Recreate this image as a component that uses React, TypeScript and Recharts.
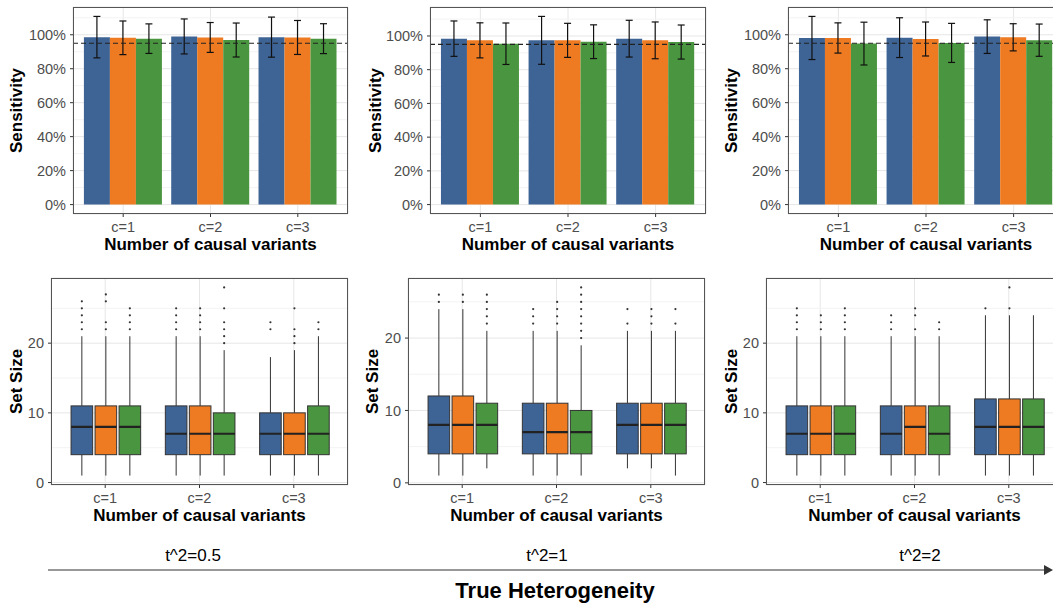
import React from 'react';
import { ComposedChart, Bar, XAxis, YAxis, CartesianGrid, ErrorBar, ReferenceLine } from 'recharts';

const categories = ['c=1', 'c=2', 'c=3'];
const methodColors = ['#3e6395', '#ee7a22', '#4a953f'];
const heterogeneity = ['0.5', '1', '2'];

// sensitivity: rows = categories, columns = methods
const sensMean05 = [[0.986, 0.982, 0.977], [0.990, 0.984, 0.969], [0.986, 0.984, 0.977]];
const sensErr05 = [[0.122, 0.099, 0.087], [0.103, 0.088, 0.100], [0.118, 0.100, 0.088]];
const sensMean1 = [[0.984, 0.974, 0.954], [0.974, 0.974, 0.966], [0.984, 0.974, 0.964]];
const sensErr1 = [[0.105, 0.104, 0.123], [0.142, 0.101, 0.100], [0.109, 0.109, 0.101]];
const sensMean2 = [[0.981, 0.981, 0.948], [0.983, 0.975, 0.952], [0.989, 0.985, 0.968]];
const sensErr2 = [[0.127, 0.089, 0.126], [0.117, 0.100, 0.115], [0.099, 0.080, 0.095]];

// set size box stats: [low whisker, q1, median, q3, high whisker, outliers]
type Box = [number, number, number, number, number, number[]];
const setSize05: Box[][] = [
  [[1, 4, 8, 11, 21, [22, 23, 24, 25, 26]], [1, 4, 8, 11, 21, [22, 23, 26, 27]], [1, 4, 8, 11, 21, [22, 23, 24, 25]]],
  [[1, 4, 7, 11, 21, [22, 23, 24, 25]], [1, 4, 7, 11, 21, [22, 23, 24, 25]], [1, 4, 7, 10, 19, [20, 21, 22, 23, 25, 28]]],
  [[1, 4, 7, 10, 18, [22, 23]], [1, 4, 7, 10, 19, [20, 21, 22, 25]], [1, 4, 7, 11, 21, [22, 23]]],
];
const setSize1: Box[][] = [
  [[1, 4, 8, 12, 24, [25, 26]], [1, 4, 8, 12, 24, [25, 26]], [2, 4, 8, 11, 21, [22, 23, 24, 25, 26]]],
  [[1, 4, 7, 11, 21, [22, 23, 24]], [1, 4, 7, 11, 21, [22, 23, 24, 25]], [1, 4, 7, 10, 19, [20, 21, 22, 23, 24, 25, 26, 27]]],
  [[2, 4, 8, 11, 21, [22, 24]], [2, 4, 8, 11, 21, [22, 23, 24]], [1, 4, 8, 11, 21, [22, 24]]],
];
const setSize2: Box[][] = [
  [[1, 4, 7, 11, 21, [22, 23, 24, 25]], [1, 4, 7, 11, 21, [22, 23, 24]], [1, 4, 7, 11, 21, [22, 23, 24, 25]]],
  [[1, 4, 7, 11, 21, [22, 23, 24]], [1, 4, 8, 11, 21, [22, 24, 25]], [1, 4, 7, 11, 21, [22, 23]]],
  [[1, 4, 8, 12, 24, [25]], [1, 4, 8, 12, 24, [25, 28]], [1, 4, 8, 12, 24, []]],
];

const sensTicks = [0, 0.2, 0.4, 0.6, 0.8, 1];
const sensMinor = [0.1, 0.3, 0.5, 0.7, 0.9, 1.1];
const sizeTicks = [0, 10, 20];
const sizeMinor = [5, 15, 25];

const FONT = "'Liberation Sans', Arial, sans-serif";
const MT = 5;
const MR = 5;
const XH = 50;

type Rect = { x: number; y: number; w: number; h: number };

const tickStyle = { fill: '#4d4d4d', fontSize: 14.5, fontFamily: FONT };
const titleStyle = { fill: '#000', fontSize: 17, fontWeight: 'bold', fontFamily: FONT };

const Frame = ({ r }: { r: Rect }) => (
  <div
    style={{
      position: 'absolute', left: r.x, top: r.y, width: r.w, height: r.h,
      border: '1px solid #555', boxSizing: 'border-box', pointerEvents: 'none',
    }}
  />
);

const SensPanel = ({ means, errs, r, yw, titleOff }: { means: number[][]; errs: number[][]; r: Rect; yw: number; titleOff: number }) => {
  const rows = categories.map((cat, i) => {
    const row: any = { cat };
    means[i].forEach((m, j) => { row[`s${j}`] = m; row[`e${j}`] = errs[i][j]; });
    return row;
  });
  const hi = Math.max(...means.flatMap((row, i) => row.map((m, j) => m + errs[i][j])));
  const pad = r.w / 42;
  return (
    <>
      <div style={{ position: 'absolute', left: r.x - yw, top: r.y - MT }}>
        <ComposedChart width={yw + r.w + MR} height={MT + r.h + XH} data={rows}
          margin={{ top: MT, right: MR, left: 0, bottom: 0 }} barCategoryGap="5%" barGap={0}>
          <CartesianGrid stroke="#e6e6e6" />
          <XAxis dataKey="cat" height={XH} padding={{ left: pad, right: pad }} axisLine={false}
            tickSize={3} tickMargin={5} tickLine={{ stroke: '#333' }} tick={tickStyle}
            label={{ value: 'Number of causal variants', position: 'insideBottom', offset: 14, ...titleStyle }} />
          <YAxis type="number" domain={[-0.05 * hi, 1.05 * hi]} allowDataOverflow ticks={sensTicks} width={yw}
            axisLine={false} tickSize={3} tickMargin={4} tickLine={{ stroke: '#333' }} tick={tickStyle}
            tickFormatter={(v: number) => `${Math.round(v * 100)}%`}
            label={{ value: 'Sensitivity', angle: -90, position: 'insideLeft', offset: titleOff, style: { textAnchor: 'middle' }, ...titleStyle }} />
          {sensMinor.map((v) => (
            <ReferenceLine key={v} y={v} stroke="#f3f3f3" zIndex={-50} />
          ))}
          {methodColors.map((c, j) => (
            <Bar key={j} dataKey={`s${j}`} fill={c} isAnimationActive={false}>
              <ErrorBar dataKey={`e${j}`} width={3.5} stroke="#111" strokeWidth={1.2} />
            </Bar>
          ))}
          <ReferenceLine y={0.95} stroke="#222" strokeWidth={1.1} strokeDasharray="5 3" />
        </ComposedChart>
      </div>
      <Frame r={r} />
    </>
  );
};

const BoxShape = (props: any) => {
  const { x, y, width, height, payload, idx, color } = props;
  const [lo, q1, med, q3, hiW, outliers] = payload[`b${idx}`] as Box;
  const top = Math.min(y, y + height);
  const bottom = Math.max(y, y + height);
  const k = (bottom - top) / (q3 - q1);
  const py = (v: number) => bottom - (v - q1) * k;
  const cx = x + width / 2;
  const bw = width * 0.9;
  return (
    <g>
      <line x1={cx} x2={cx} y1={py(hiW)} y2={top} stroke="#333" strokeWidth={1} />
      <line x1={cx} x2={cx} y1={bottom} y2={py(lo)} stroke="#333" strokeWidth={1} />
      <rect x={cx - bw / 2} y={top} width={bw} height={bottom - top} fill={color} stroke="#333" strokeWidth={1} />
      <line x1={cx - bw / 2} x2={cx + bw / 2} y1={py(med)} y2={py(med)} stroke="#222" strokeWidth={2.2} />
      {outliers.map((o, i) => (
        <circle key={i} cx={cx} cy={py(o)} r={1.1} fill="#333" />
      ))}
    </g>
  );
};

const BoxPanel = ({ boxes, r, yw, titleOff }: { boxes: Box[][]; r: Rect; yw: number; titleOff: number }) => {
  const rows = categories.map((cat, i) => {
    const row: any = { cat };
    boxes[i].forEach((b, j) => { row[`r${j}`] = [b[1], b[3]]; row[`b${j}`] = b; });
    return row;
  });
  const all = boxes.flatMap((row) => row.flatMap((b) => [b[0], b[4], ...b[5]]));
  const lo = Math.min(...all);
  const hi = Math.max(...all);
  const ex = (hi - lo) * 0.05;
  const pad = r.w / 42;
  return (
    <>
      <div style={{ position: 'absolute', left: r.x - yw, top: r.y - MT }}>
        <ComposedChart width={yw + r.w + MR} height={MT + r.h + XH} data={rows}
          margin={{ top: MT, right: MR, left: 0, bottom: 0 }} barCategoryGap="12.5%" barGap={0}>
          <CartesianGrid stroke="#e6e6e6" />
          <XAxis dataKey="cat" height={XH} padding={{ left: pad, right: pad }} axisLine={false}
            tickSize={3} tickMargin={5} tickLine={{ stroke: '#333' }} tick={tickStyle}
            label={{ value: 'Number of causal variants', position: 'insideBottom', offset: 14, ...titleStyle }} />
          <YAxis type="number" domain={[lo - ex, hi + ex]} allowDataOverflow ticks={sizeTicks} width={yw}
            axisLine={false} tickSize={3} tickMargin={4} tickLine={{ stroke: '#333' }} tick={tickStyle}
            label={{ value: 'Set Size', angle: -90, position: 'insideLeft', offset: titleOff, style: { textAnchor: 'middle' }, ...titleStyle }} />
          {sizeMinor.map((v) => (
            <ReferenceLine key={v} y={v} stroke="#f3f3f3" zIndex={-50} />
          ))}
          {methodColors.map((c, j) => (
            <Bar key={j} dataKey={`r${j}`} fill={c} isAnimationActive={false}
              shape={(p: any) => <BoxShape {...p} idx={j} color={c} />} />
          ))}
        </ComposedChart>
      </div>
      <Frame r={r} />
    </>
  );
};

const labelX = [193, 547, 920];

export default function App() {
  return (
    <div style={{ position: 'absolute', left: 0, top: 0, width: 1053, height: 604, overflow: 'hidden', background: '#fff' }}>
      <SensPanel means={sensMean05} errs={sensErr05} r={{ x: 73, y: 7, w: 275, h: 207 }} yw={70} titleOff={13} />
      <SensPanel means={sensMean1} errs={sensErr1} r={{ x: 430, y: 7, w: 276, h: 207 }} yw={70} titleOff={15} />
      <SensPanel means={sensMean2} errs={sensErr2} r={{ x: 788, y: 7, w: 276, h: 207 }} yw={70} titleOff={13} />
      <BoxPanel boxes={setSize05} r={{ x: 51, y: 278, w: 297, h: 207 }} yw={50} titleOff={15} />
      <BoxPanel boxes={setSize1} r={{ x: 408, y: 278, w: 297, h: 207 }} yw={50} titleOff={14} />
      <BoxPanel boxes={setSize2} r={{ x: 766, y: 278, w: 297, h: 207 }} yw={50} titleOff={15} />
      <svg width={1053} height={74} style={{ position: 'absolute', left: 0, top: 530 }}>
        <line x1={48} y1={40} x2={1048} y2={40} stroke="#333" strokeWidth={1.2} />
        <polygon points="1044,35 1053,40 1044,45" fill="#333" />
        {heterogeneity.map((h, i) => (
          <text key={h} x={labelX[i]} y={31} textAnchor="middle" fontSize={17} fontFamily={FONT} fill="#000">
            {`t^2=${h}`}
          </text>
        ))}
        <text x={555} y={68} textAnchor="middle" fontSize={22} fontWeight="bold" fontFamily={FONT} fill="#000">
          True Heterogeneity
        </text>
      </svg>
    </div>
  );
}
